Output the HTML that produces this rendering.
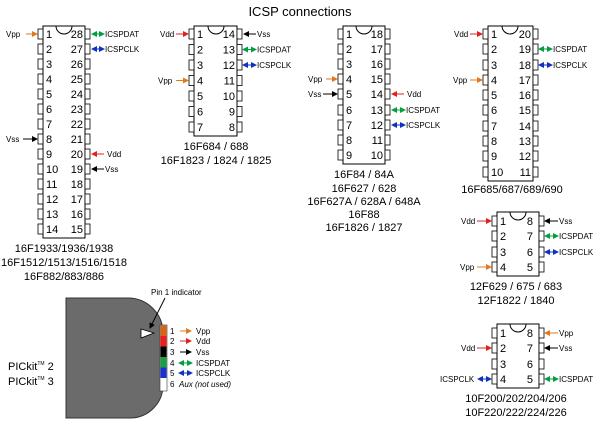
<!DOCTYPE html>
<html><head><style>
html,body{margin:0;padding:0;background:#fff;}
svg{display:block;font-family:"Liberation Sans",sans-serif;}
.n{font-size:11px;fill:#000;}
.s{font-size:8px;fill:#000;}
.l{font-size:11px;fill:#000;text-anchor:middle;}
.b{fill:#fff;stroke:#000;stroke-width:1;}
.p{fill:#fff;stroke:#000;stroke-width:0.8;}
</style></head><body>
<svg width="600" height="426" viewBox="0 0 600 426" xmlns="http://www.w3.org/2000/svg">
<defs>
<marker id="mo" markerWidth="6" markerHeight="6" refX="5" refY="3" orient="auto-start-reverse" markerUnits="userSpaceOnUse"><path d="M0,0L6,3L0,6z" fill="#e07a1f"/></marker>
<marker id="mr" markerWidth="6" markerHeight="6" refX="5" refY="3" orient="auto-start-reverse" markerUnits="userSpaceOnUse"><path d="M0,0L6,3L0,6z" fill="#e02020"/></marker>
<marker id="mk" markerWidth="6" markerHeight="6" refX="5" refY="3" orient="auto-start-reverse" markerUnits="userSpaceOnUse"><path d="M0,0L6,3L0,6z" fill="#000"/></marker>
<marker id="mg" markerWidth="6" markerHeight="6" refX="5" refY="3" orient="auto-start-reverse" markerUnits="userSpaceOnUse"><path d="M0,0L6,3L0,6z" fill="#00a040"/></marker>
<marker id="mb" markerWidth="6" markerHeight="6" refX="5" refY="3" orient="auto-start-reverse" markerUnits="userSpaceOnUse"><path d="M0,0L6,3L0,6z" fill="#1030c0"/></marker>
</defs>
<text x="300" y="16" style="font-size:13px" text-anchor="middle">ICSP connections</text>

<!-- Chip 1: 28 pin -->
<rect class="b" x="43" y="26" width="42" height="212"/>
<path d="M56,26 A8,8 0 0 0 72,26" fill="none" stroke="#000"/>
<g class="p">
<rect x="38" y="29" width="5" height="10"/><rect x="38" y="44" width="5" height="10"/><rect x="38" y="59" width="5" height="10"/><rect x="38" y="74" width="5" height="10"/><rect x="38" y="89" width="5" height="10"/><rect x="38" y="104" width="5" height="10"/><rect x="38" y="119" width="5" height="10"/><rect x="38" y="134" width="5" height="10"/><rect x="38" y="149" width="5" height="10"/><rect x="38" y="164" width="5" height="10"/><rect x="38" y="179" width="5" height="10"/><rect x="38" y="194" width="5" height="10"/><rect x="38" y="209" width="5" height="10"/><rect x="38" y="224" width="5" height="10"/>
<rect x="85" y="29" width="5" height="10"/><rect x="85" y="44" width="5" height="10"/><rect x="85" y="59" width="5" height="10"/><rect x="85" y="74" width="5" height="10"/><rect x="85" y="89" width="5" height="10"/><rect x="85" y="104" width="5" height="10"/><rect x="85" y="119" width="5" height="10"/><rect x="85" y="134" width="5" height="10"/><rect x="85" y="149" width="5" height="10"/><rect x="85" y="164" width="5" height="10"/><rect x="85" y="179" width="5" height="10"/><rect x="85" y="194" width="5" height="10"/><rect x="85" y="209" width="5" height="10"/><rect x="85" y="224" width="5" height="10"/>
</g>
<g class="n">
<text x="46" y="38">1</text><text x="46" y="53">2</text><text x="46" y="68">3</text><text x="46" y="83">4</text><text x="46" y="98">5</text><text x="46" y="113">6</text><text x="46" y="128">7</text><text x="46" y="143">8</text><text x="46" y="158">9</text><text x="46" y="173">10</text><text x="46" y="188">11</text><text x="46" y="203">12</text><text x="46" y="218">13</text><text x="46" y="233">14</text>
</g>
<g class="n" text-anchor="end">
<text x="83" y="38">28</text><text x="83" y="53">27</text><text x="83" y="68">26</text><text x="83" y="83">25</text><text x="83" y="98">24</text><text x="83" y="113">23</text><text x="83" y="128">22</text><text x="83" y="143">21</text><text x="83" y="158">20</text><text x="83" y="173">19</text><text x="83" y="188">18</text><text x="83" y="203">17</text><text x="83" y="218">16</text><text x="83" y="233">15</text>
</g>
<text class="s" x="6" y="37">Vpp</text><line x1="26" y1="34" x2="37" y2="34" stroke="#e07a1f" marker-end="url(#mo)"/>
<line x1="92" y1="34" x2="104" y2="34" stroke="#00a040" marker-start="url(#mg)" marker-end="url(#mg)"/><text class="s" x="105" y="37">ICSPDAT</text>
<line x1="92" y1="49" x2="104" y2="49" stroke="#1030c0" marker-start="url(#mb)" marker-end="url(#mb)"/><text class="s" x="105" y="52">ICSPCLK</text>
<text class="s" x="6" y="142">Vss</text><line x1="23" y1="139" x2="37" y2="139" stroke="#000" marker-end="url(#mk)"/>
<line x1="104" y1="154" x2="92" y2="154" stroke="#e02020" marker-end="url(#mr)"/><text class="s" x="107" y="157">Vdd</text>
<line x1="104" y1="169" x2="92" y2="169" stroke="#000" marker-end="url(#mk)"/><text class="s" x="105" y="172">Vss</text>
<text class="l" x="64" y="252">16F1933/1936/1938</text>
<text class="l" x="64" y="266">16F1512/1513/1516/1518</text>
<text class="l" x="64" y="280">16F882/883/886</text>

<!-- Chip 2: 14 pin -->
<rect class="b" x="194" y="26" width="43" height="110"/>
<path d="M208,26 A8,8 0 0 0 224,26" fill="none" stroke="#000"/>
<g class="p">
<rect x="189" y="29" width="5" height="10"/><rect x="189" y="44.5" width="5" height="10"/><rect x="189" y="60" width="5" height="10"/><rect x="189" y="75.5" width="5" height="10"/><rect x="189" y="91" width="5" height="10"/><rect x="189" y="106.5" width="5" height="10"/><rect x="189" y="122" width="5" height="10"/>
<rect x="237" y="29" width="5" height="10"/><rect x="237" y="44.5" width="5" height="10"/><rect x="237" y="60" width="5" height="10"/><rect x="237" y="75.5" width="5" height="10"/><rect x="237" y="91" width="5" height="10"/><rect x="237" y="106.5" width="5" height="10"/><rect x="237" y="122" width="5" height="10"/>
</g>
<g class="n"><text x="197" y="38">1</text><text x="197" y="53.5">2</text><text x="197" y="69">3</text><text x="197" y="84.5">4</text><text x="197" y="100">5</text><text x="197" y="115.5">6</text><text x="197" y="131">7</text></g>
<g class="n" text-anchor="end"><text x="235" y="38">14</text><text x="235" y="53.5">13</text><text x="235" y="69">12</text><text x="235" y="84.5">11</text><text x="235" y="100">10</text><text x="235" y="115.5">9</text><text x="235" y="131">8</text></g>
<text class="s" x="160" y="37">Vdd</text><line x1="176" y1="34" x2="188" y2="34" stroke="#e02020" marker-end="url(#mr)"/>
<line x1="256" y1="34" x2="244" y2="34" stroke="#000" marker-end="url(#mk)"/><text class="s" x="257" y="37">Vss</text>
<line x1="243" y1="49.5" x2="256" y2="49.5" stroke="#00a040" marker-start="url(#mg)" marker-end="url(#mg)"/><text class="s" x="257" y="52.5">ICSPDAT</text>
<line x1="243" y1="65" x2="256" y2="65" stroke="#1030c0" marker-start="url(#mb)" marker-end="url(#mb)"/><text class="s" x="257" y="68">ICSPCLK</text>
<text class="s" x="158" y="83.5">Vpp</text><line x1="176" y1="80.5" x2="188" y2="80.5" stroke="#e07a1f" marker-end="url(#mo)"/>
<text class="l" x="216" y="150">16F684 / 688</text>
<text class="l" x="216" y="164">16F1823 / 1824 / 1825</text>

<!-- Chip 3: 18 pin -->
<rect class="b" x="343" y="26" width="42" height="138"/>
<path d="M356,26 A8,8 0 0 0 372,26" fill="none" stroke="#000"/>
<g class="p">
<rect x="338" y="29" width="5" height="10"/><rect x="338" y="44" width="5" height="10"/><rect x="338" y="59" width="5" height="10"/><rect x="338" y="74" width="5" height="10"/><rect x="338" y="89" width="5" height="10"/><rect x="338" y="105" width="5" height="10"/><rect x="338" y="120" width="5" height="10"/><rect x="338" y="135" width="5" height="10"/><rect x="338" y="150" width="5" height="10"/>
<rect x="385" y="29" width="5" height="10"/><rect x="385" y="44" width="5" height="10"/><rect x="385" y="59" width="5" height="10"/><rect x="385" y="74" width="5" height="10"/><rect x="385" y="89" width="5" height="10"/><rect x="385" y="105" width="5" height="10"/><rect x="385" y="120" width="5" height="10"/><rect x="385" y="135" width="5" height="10"/><rect x="385" y="150" width="5" height="10"/>
</g>
<g class="n"><text x="346" y="38">1</text><text x="346" y="53">2</text><text x="346" y="68">3</text><text x="346" y="83">4</text><text x="346" y="98">5</text><text x="346" y="114">6</text><text x="346" y="129">7</text><text x="346" y="144">8</text><text x="346" y="159">9</text></g>
<g class="n" text-anchor="end"><text x="383" y="38">18</text><text x="383" y="53">17</text><text x="383" y="68">16</text><text x="383" y="83">15</text><text x="383" y="98">14</text><text x="383" y="114">13</text><text x="383" y="129">12</text><text x="383" y="144">11</text><text x="383" y="159">10</text></g>
<text class="s" x="308" y="82">Vpp</text><line x1="326" y1="79" x2="337" y2="79" stroke="#e07a1f" marker-end="url(#mo)"/>
<text class="s" x="308" y="97">Vss</text><line x1="323" y1="94" x2="337" y2="94" stroke="#000" marker-end="url(#mk)"/>
<line x1="404" y1="94" x2="392" y2="94" stroke="#e02020" marker-end="url(#mr)"/><text class="s" x="407" y="97">Vdd</text>
<line x1="392" y1="110" x2="405" y2="110" stroke="#00a040" marker-start="url(#mg)" marker-end="url(#mg)"/><text class="s" x="406" y="113">ICSPDAT</text>
<line x1="392" y1="125" x2="405" y2="125" stroke="#1030c0" marker-start="url(#mb)" marker-end="url(#mb)"/><text class="s" x="406" y="128">ICSPCLK</text>
<text class="l" x="364" y="178">16F84 / 84A</text>
<text class="l" x="364" y="192">16F627 / 628</text>
<text class="l" x="364" y="205">16F627A / 628A / 648A</text>
<text class="l" x="364" y="218">16F88</text>
<text class="l" x="364" y="231">16F1826 / 1827</text>

<!-- Chip 4: 20 pin -->
<rect class="b" x="488" y="26" width="45" height="155"/>
<path d="M502,26 A8,8 0 0 0 518,26" fill="none" stroke="#000"/>
<g class="p">
<rect x="483" y="29" width="5" height="10"/><rect x="483" y="44" width="5" height="10"/><rect x="483" y="60" width="5" height="10"/><rect x="483" y="75" width="5" height="10"/><rect x="483" y="90" width="5" height="10"/><rect x="483" y="105" width="5" height="10"/><rect x="483" y="121" width="5" height="10"/><rect x="483" y="136" width="5" height="10"/><rect x="483" y="151" width="5" height="10"/><rect x="483" y="167" width="5" height="10"/>
<rect x="533" y="29" width="5" height="10"/><rect x="533" y="44" width="5" height="10"/><rect x="533" y="60" width="5" height="10"/><rect x="533" y="75" width="5" height="10"/><rect x="533" y="90" width="5" height="10"/><rect x="533" y="105" width="5" height="10"/><rect x="533" y="121" width="5" height="10"/><rect x="533" y="136" width="5" height="10"/><rect x="533" y="151" width="5" height="10"/><rect x="533" y="167" width="5" height="10"/>
</g>
<g class="n"><text x="491" y="38">1</text><text x="491" y="53">2</text><text x="491" y="69">3</text><text x="491" y="84">4</text><text x="491" y="99">5</text><text x="491" y="114">6</text><text x="491" y="130">7</text><text x="491" y="145">8</text><text x="491" y="160">9</text><text x="491" y="176">10</text></g>
<g class="n" text-anchor="end"><text x="531" y="38">20</text><text x="531" y="53">19</text><text x="531" y="69">18</text><text x="531" y="84">17</text><text x="531" y="99">16</text><text x="531" y="114">15</text><text x="531" y="130">14</text><text x="531" y="145">13</text><text x="531" y="160">12</text><text x="531" y="176">11</text></g>
<text class="s" x="454" y="37">Vdd</text><line x1="470" y1="34" x2="482" y2="34" stroke="#e02020" marker-end="url(#mr)"/>
<line x1="539" y1="49" x2="552" y2="49" stroke="#00a040" marker-start="url(#mg)" marker-end="url(#mg)"/><text class="s" x="553" y="52">ICSPDAT</text>
<line x1="539" y1="65" x2="552" y2="65" stroke="#1030c0" marker-start="url(#mb)" marker-end="url(#mb)"/><text class="s" x="553" y="68">ICSPCLK</text>
<text class="s" x="453" y="83">Vpp</text><line x1="470" y1="80" x2="482" y2="80" stroke="#e07a1f" marker-end="url(#mo)"/>
<text class="l" x="512" y="193">16F685/687/689/690</text>

<!-- Chip 5: 8 pin -->
<rect class="b" x="497" y="212" width="42" height="64"/>
<path d="M510,212 A8,8 0 0 0 526,212" fill="none" stroke="#000"/>
<g class="p">
<rect x="492" y="216" width="5" height="10"/><rect x="492" y="231" width="5" height="10"/><rect x="492" y="247" width="5" height="10"/><rect x="492" y="262" width="5" height="10"/>
<rect x="539" y="216" width="5" height="10"/><rect x="539" y="231" width="5" height="10"/><rect x="539" y="247" width="5" height="10"/><rect x="539" y="262" width="5" height="10"/>
</g>
<g class="n"><text x="500" y="225">1</text><text x="500" y="240">2</text><text x="500" y="256">3</text><text x="500" y="271">4</text></g>
<g class="n" text-anchor="end"><text x="533" y="225">8</text><text x="533" y="240">7</text><text x="533" y="256">6</text><text x="533" y="271">5</text></g>
<text class="s" x="461" y="224">Vdd</text><line x1="477" y1="221" x2="491" y2="221" stroke="#e02020" marker-end="url(#mr)"/>
<line x1="558" y1="221" x2="545" y2="221" stroke="#000" marker-end="url(#mk)"/><text class="s" x="559" y="224">Vss</text>
<line x1="545" y1="236" x2="558" y2="236" stroke="#00a040" marker-start="url(#mg)" marker-end="url(#mg)"/><text class="s" x="559" y="239">ICSPDAT</text>
<line x1="545" y1="252" x2="558" y2="252" stroke="#1030c0" marker-start="url(#mb)" marker-end="url(#mb)"/><text class="s" x="559" y="255">ICSPCLK</text>
<text class="s" x="460" y="270">Vpp</text><line x1="477" y1="267" x2="491" y2="267" stroke="#e07a1f" marker-end="url(#mo)"/>
<text class="l" x="516" y="290">12F629 / 675 / 683</text>
<text class="l" x="516" y="304">12F1822 / 1840</text>

<!-- Chip 6: 8 pin -->
<rect class="b" x="497" y="324" width="42" height="64"/>
<path d="M510,324 A8,8 0 0 0 526,324" fill="none" stroke="#000"/>
<g class="p">
<rect x="492" y="328" width="5" height="10"/><rect x="492" y="343" width="5" height="10"/><rect x="492" y="359" width="5" height="10"/><rect x="492" y="374" width="5" height="10"/>
<rect x="539" y="328" width="5" height="10"/><rect x="539" y="343" width="5" height="10"/><rect x="539" y="359" width="5" height="10"/><rect x="539" y="374" width="5" height="10"/>
</g>
<g class="n"><text x="500" y="337">1</text><text x="500" y="352">2</text><text x="500" y="368">3</text><text x="500" y="383">4</text></g>
<g class="n" text-anchor="end"><text x="533" y="337">8</text><text x="533" y="352">7</text><text x="533" y="368">6</text><text x="533" y="383">5</text></g>
<line x1="558" y1="333" x2="545" y2="333" stroke="#e07a1f" marker-end="url(#mo)"/><text class="s" x="559" y="336">Vpp</text>
<text class="s" x="461" y="351">Vdd</text><line x1="477" y1="348" x2="491" y2="348" stroke="#e02020" marker-end="url(#mr)"/>
<line x1="558" y1="348" x2="545" y2="348" stroke="#000" marker-end="url(#mk)"/><text class="s" x="559" y="351">Vss</text>
<text class="s" x="440" y="382">ICSPCLK</text><line x1="478" y1="379" x2="491" y2="379" stroke="#1030c0" marker-start="url(#mb)" marker-end="url(#mb)"/>
<line x1="545" y1="379" x2="558" y2="379" stroke="#00a040" marker-start="url(#mg)" marker-end="url(#mg)"/><text class="s" x="559" y="382">ICSPDAT</text>
<text class="l" x="516" y="402">10F200/202/204/206</text>
<text class="l" x="516" y="416">10F220/222/224/226</text>

<!-- PICkit -->
<path d="M66,298 L128,298 A35,35 0 0 1 163,333 L163,385 A33,33 0 0 1 130,418 L66,418 Z" fill="#6b6b6b" stroke="#333" stroke-width="1"/>
<rect x="160" y="325" width="7" height="66" fill="#fff" stroke="#333" stroke-width="0.6"/>
<rect x="160.5" y="325.5" width="6" height="10.5" fill="#d8641a"/>
<rect x="160.5" y="336" width="6" height="10.5" fill="#ee1c1c"/>
<rect x="160.5" y="346.5" width="6" height="10.5" fill="#000"/>
<rect x="160.5" y="357" width="6" height="10.5" fill="#1aa040"/>
<rect x="160.5" y="367.5" width="6" height="10.5" fill="#1a30d0"/>
<path d="M141,329 L154,333 L141,338 Z" fill="#fff" stroke="#000" stroke-width="0.8"/>
<line x1="165" y1="298" x2="150" y2="328" stroke="#000" marker-end="url(#mk)"/>
<text class="s" x="151" y="295">Pin 1 indicator</text>
<g class="s">
<text x="170" y="334">1</text><text x="170" y="344">2</text><text x="170" y="355">3</text><text x="170" y="366">4</text><text x="170" y="376">5</text><text x="170" y="387">6</text>
</g>
<line x1="180" y1="331" x2="191" y2="331" stroke="#e07a1f" marker-end="url(#mo)"/><text class="s" x="196" y="334">Vpp</text>
<line x1="180" y1="341" x2="191" y2="341" stroke="#e02020" marker-end="url(#mr)"/><text class="s" x="196" y="344">Vdd</text>
<line x1="180" y1="352" x2="191" y2="352" stroke="#000" marker-end="url(#mk)"/><text class="s" x="196" y="355">Vss</text>
<line x1="179" y1="363" x2="192" y2="363" stroke="#00a040" marker-start="url(#mg)" marker-end="url(#mg)"/><text class="s" x="196" y="366">ICSPDAT</text>
<line x1="179" y1="373" x2="192" y2="373" stroke="#1030c0" marker-start="url(#mb)" marker-end="url(#mb)"/><text class="s" x="196" y="376">ICSPCLK</text>
<text class="s" x="179" y="387" font-style="italic">Aux (not used)</text>
<text x="8" y="370" style="font-size:11px">PICkit<tspan style="font-size:5px" dy="-5">TM</tspan><tspan dy="5"> 2</tspan></text>
<text x="8" y="385" style="font-size:11px">PICkit<tspan style="font-size:5px" dy="-5">TM</tspan><tspan dy="5"> 3</tspan></text>
</svg>
</body></html>
